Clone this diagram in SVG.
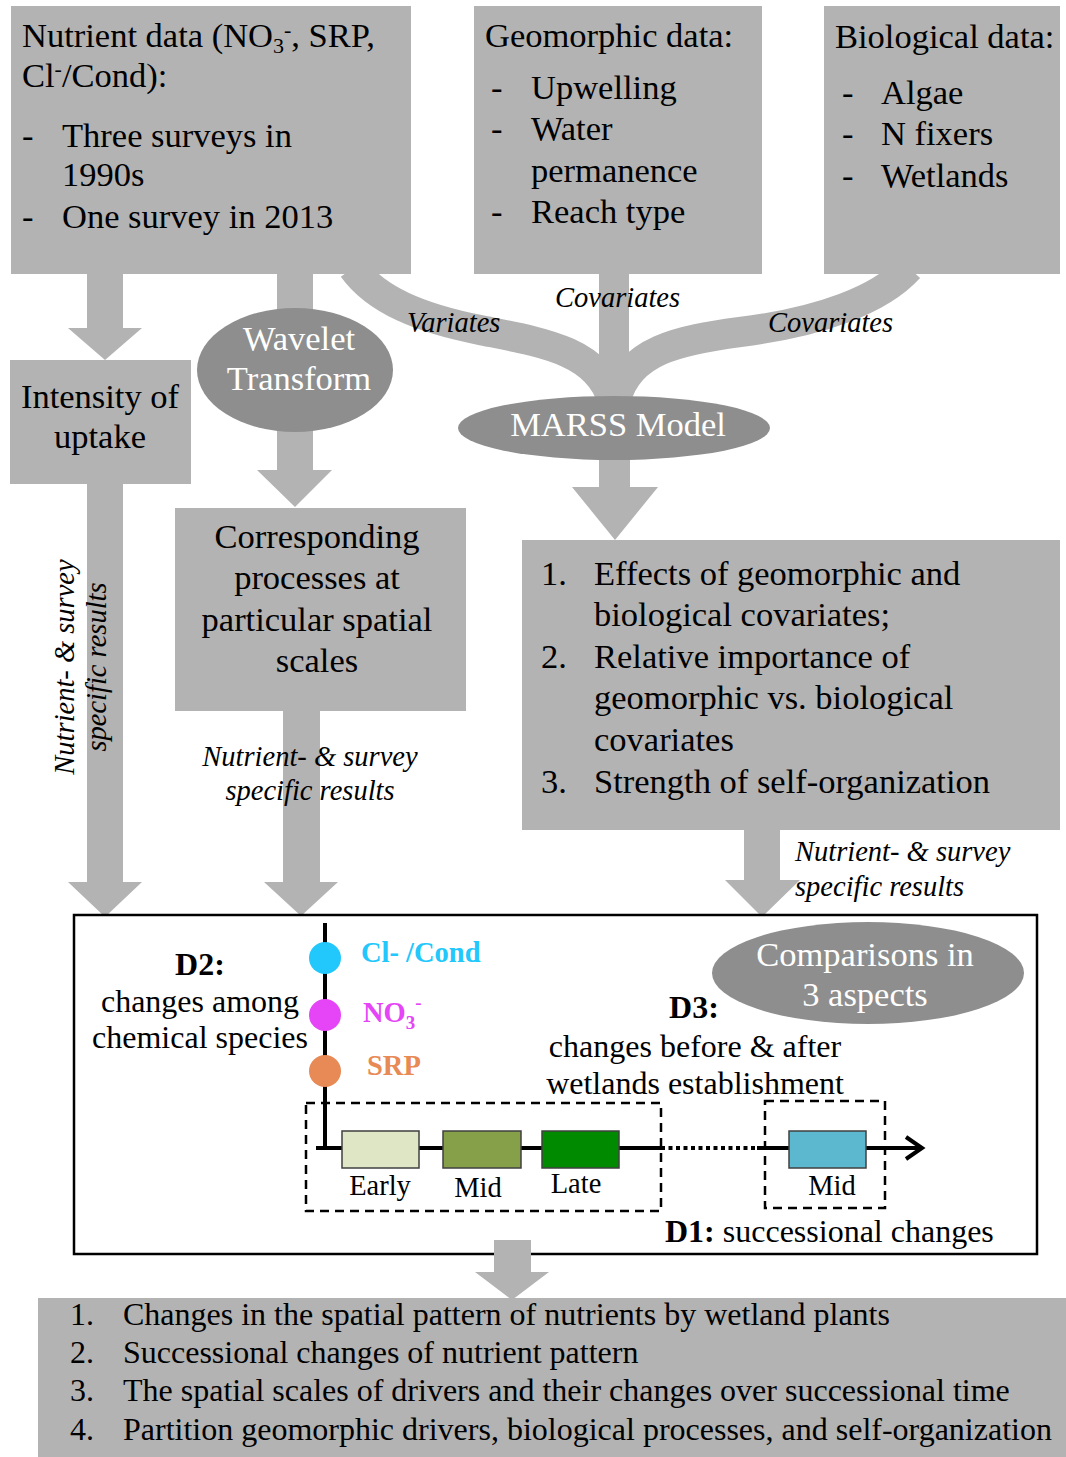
<svg xmlns="http://www.w3.org/2000/svg" width="1066" height="1457" viewBox="0 0 1066 1457">
<style>
.box{fill:#b3b3b3}
.ell{fill:#8e8e8e}
.arr{fill:#b3b3b3}
.band{fill:none;stroke:#b3b3b3;stroke-width:30}
.t{font-family:"Liberation Serif","Times New Roman",serif;font-size:34.5px;fill:#000}
.w{font-family:"Liberation Serif","Times New Roman",serif;font-size:34.5px;fill:#fff;text-anchor:middle}
.it{font-family:"Liberation Serif","Times New Roman",serif;font-size:28.5px;font-style:italic;fill:#000}
.m{font-family:"Liberation Serif","Times New Roman",serif;font-size:32px;fill:#000}
.lb{font-family:"Liberation Serif","Times New Roman",serif;font-size:28.5px;fill:#000;text-anchor:middle}
.bt{font-family:"Liberation Serif","Times New Roman",serif;font-size:32px;fill:#000}
.c{text-anchor:middle}
.b{font-weight:bold}
.stage{stroke:#404040;stroke-width:1.5}
.dash{fill:none;stroke:#000;stroke-width:2.5;stroke-dasharray:9 6}
</style>

<g id="connectors">
  <!-- nutrient -> intensity -->
  <path class="arr" d="M87 270H123V328H142L105 360L68 328H87Z"/>
  <!-- nutrient -> wavelet -> corresponding -->
  <path class="arr" d="M277 270H313V470H332L295 507L257 470H277Z"/>
  <!-- bands to MARSS -->
  <path class="band" d="M353 268C376 300 420 318 480 330C540 342 598 350 612 400"/>
  <path class="band" d="M909 268C880 300 820 322 740 332C680 340 628 350 616 400"/>
  <rect class="arr" x="599" y="270" width="30" height="135"/>
  <!-- MARSS -> results -->
  <path class="arr" d="M599 455H630V487H658L615 540L572 487H599Z"/>
  <!-- intensity -> D box -->
  <path class="arr" d="M87 480H123V882H142L105 917L68 882H87Z"/>
  <!-- corresponding -> D box -->
  <path class="arr" d="M283 708H320V882H338L301 916L264 882H283Z"/>
  <!-- results -> D box -->
  <path class="arr" d="M744 828H780V880H800L762 917L725 880H744Z"/>
  <text class="it" x="555" y="307">Covariates</text>
  <text class="it" x="407" y="332">Variates</text>
  <text class="it" x="768" y="332">Covariates</text>
  <g transform="translate(74,667) rotate(-90)">
    <text class="it c" x="0" y="0">Nutrient- &amp; survey</text>
    <text class="it c" x="0" y="32">specific results</text>
  </g>
  <text class="it c" x="310" y="766">Nutrient- &amp; survey</text>
  <text class="it c" x="310" y="800">specific results</text>
  <text class="it" x="795" y="861">Nutrient- &amp; survey</text>
  <text class="it" x="795" y="896">specific results</text>
</g>

<g id="nutrient-data">
  <rect class="box" x="11" y="6" width="400" height="268"/>
  <text class="t" x="22" y="47">Nutrient data (NO<tspan font-size="22" dy="6">3</tspan><tspan font-size="22" dy="-16">-</tspan><tspan dy="10">, SRP,</tspan></text>
  <text class="t" x="22" y="87">Cl<tspan font-size="22" dy="-11">-</tspan><tspan dy="11">/Cond):</tspan></text>
  <text class="t" x="22" y="147">-</text><text class="t" x="62" y="147">Three surveys in</text>
  <text class="t" x="62" y="186">1990s</text>
  <text class="t" x="22" y="228">-</text><text class="t" x="62" y="228">One survey in 2013</text>
</g>

<g id="geomorphic-data">
  <rect class="box" x="474" y="6" width="288" height="268"/>
  <text class="t" x="485" y="47">Geomorphic data:</text>
  <text class="t" x="491" y="99">-</text><text class="t" x="531" y="99">Upwelling</text>
  <text class="t" x="491" y="140">-</text><text class="t" x="531" y="140">Water</text>
  <text class="t" x="531" y="182">permanence</text>
  <text class="t" x="491" y="223">-</text><text class="t" x="531" y="223">Reach type</text>
</g>

<g id="biological-data">
  <rect class="box" x="824" y="6" width="236" height="268"/>
  <text class="t" x="835" y="48">Biological data:</text>
  <text class="t" x="842" y="104">-</text><text class="t" x="881" y="104">Algae</text>
  <text class="t" x="842" y="145">-</text><text class="t" x="881" y="145">N fixers</text>
  <text class="t" x="842" y="187">-</text><text class="t" x="881" y="187">Wetlands</text>
</g>

<g id="intensity">
  <rect class="box" x="10" y="360" width="181" height="124"/>
  <text class="t c" x="100" y="408">Intensity of</text>
  <text class="t c" x="100" y="448">uptake</text>
</g>

<g id="wavelet">
  <ellipse class="ell" cx="295" cy="370" rx="98" ry="62"/>
  <text class="w" x="299" y="350">Wavelet</text>
  <text class="w" x="299" y="390">Transform</text>
</g>

<g id="marss">
  <ellipse class="ell" cx="614" cy="428" rx="156" ry="32"/>
  <text class="w" x="618" y="436">MARSS Model</text>
</g>

<g id="corresponding">
  <rect class="box" x="175" y="508" width="291" height="203"/>
  <text class="t c" x="317" y="548">Corresponding</text>
  <text class="t c" x="317" y="589">processes at</text>
  <text class="t c" x="317" y="631">particular spatial</text>
  <text class="t c" x="317" y="672">scales</text>
</g>

<g id="results">
  <rect class="box" x="522" y="540" width="538" height="290"/>
  <text class="t" x="541" y="585">1.</text><text class="t" x="594" y="585">Effects of geomorphic and</text>
  <text class="t" x="594" y="626">biological covariates;</text>
  <text class="t" x="541" y="668">2.</text><text class="t" x="594" y="668">Relative importance of</text>
  <text class="t" x="594" y="709">geomorphic vs. biological</text>
  <text class="t" x="594" y="751">covariates</text>
  <text class="t" x="541" y="793">3.</text><text class="t" x="594" y="793">Strength of self-organization</text>
</g>

<g id="design">
  <rect x="74" y="915" width="963" height="339" fill="#fff" stroke="#000" stroke-width="2.5"/>
  <rect class="dash" x="306" y="1103" width="355" height="108"/>
  <rect class="dash" x="765" y="1101" width="120" height="107"/>
  <path d="M325 923V1148M316 1148H661M757 1148H920" stroke="#000" stroke-width="4" fill="none"/>
  <path d="M661 1148H757" stroke="#000" stroke-width="4" stroke-dasharray="4 3.5" fill="none"/>
  <path d="M906 1137L922 1148L906 1159" stroke="#000" stroke-width="4" fill="none"/>
  <circle cx="325" cy="958" r="16" fill="#22c7fc"/>
  <circle cx="325" cy="1015" r="16" fill="#e545f6"/>
  <circle cx="325" cy="1071" r="16" fill="#e88a55"/>
  <text class="lb b" x="361" y="962" style="fill:#22c7fc;text-anchor:start">Cl- /Cond</text>
  <text class="lb b" x="363" y="1022" style="fill:#e545f6;text-anchor:start">NO<tspan font-size="19" dy="7">3</tspan><tspan font-size="19" dy="-20">-</tspan></text>
  <text class="lb b" x="367" y="1075" style="fill:#e88a55;text-anchor:start">SRP</text>
  <text class="m c b" x="200" y="975">D2:</text>
  <text class="m c" x="200" y="1012">changes among</text>
  <text class="m c" x="200" y="1048">chemical species</text>
  <ellipse class="ell" cx="868" cy="973" rx="156" ry="51"/>
  <text class="w" x="865" y="966">Comparisons in</text>
  <text class="w" x="865" y="1006">3 aspects</text>
  <text class="m c b" x="694" y="1018">D3:</text>
  <text class="m c" x="695" y="1057">changes before &amp; after</text>
  <text class="m c" x="695" y="1094">wetlands establishment</text>
  <rect class="stage" x="342" y="1131" width="77" height="37" fill="#dfe6c6"/>
  <rect class="stage" x="443" y="1131" width="78" height="37" fill="#86a04a"/>
  <rect class="stage" x="542" y="1131" width="77" height="37" fill="#008a00"/>
  <rect class="stage" x="789" y="1131" width="77" height="37" fill="#5bb8cf"/>
  <text class="lb" x="380" y="1195">Early</text>
  <text class="lb" x="478" y="1197">Mid</text>
  <text class="lb" x="576" y="1193">Late</text>
  <text class="lb" x="832" y="1195">Mid</text>
  <text class="m" x="665" y="1242"><tspan class="b">D1:</tspan> successional changes</text>
</g>

<g id="connector-bottom">
  <path class="arr" d="M494 1240H531V1272H549L512 1300L475 1272H494Z"/>
</g>

<g id="objectives">
  <rect class="box" x="38" y="1298" width="1028" height="159"/>
  <text class="bt" x="70" y="1325">1.</text><text class="bt" x="123" y="1325">Changes in the spatial pattern of nutrients by wetland plants</text>
  <text class="bt" x="70" y="1363">2.</text><text class="bt" x="123" y="1363">Successional changes of nutrient pattern</text>
  <text class="bt" x="70" y="1401">3.</text><text class="bt" x="123" y="1401">The spatial scales of drivers and their changes over successional time</text>
  <text class="bt" x="70" y="1440">4.</text><text class="bt" x="123" y="1440">Partition geomorphic drivers, biological processes, and self-organization</text>
</g>
</svg>
